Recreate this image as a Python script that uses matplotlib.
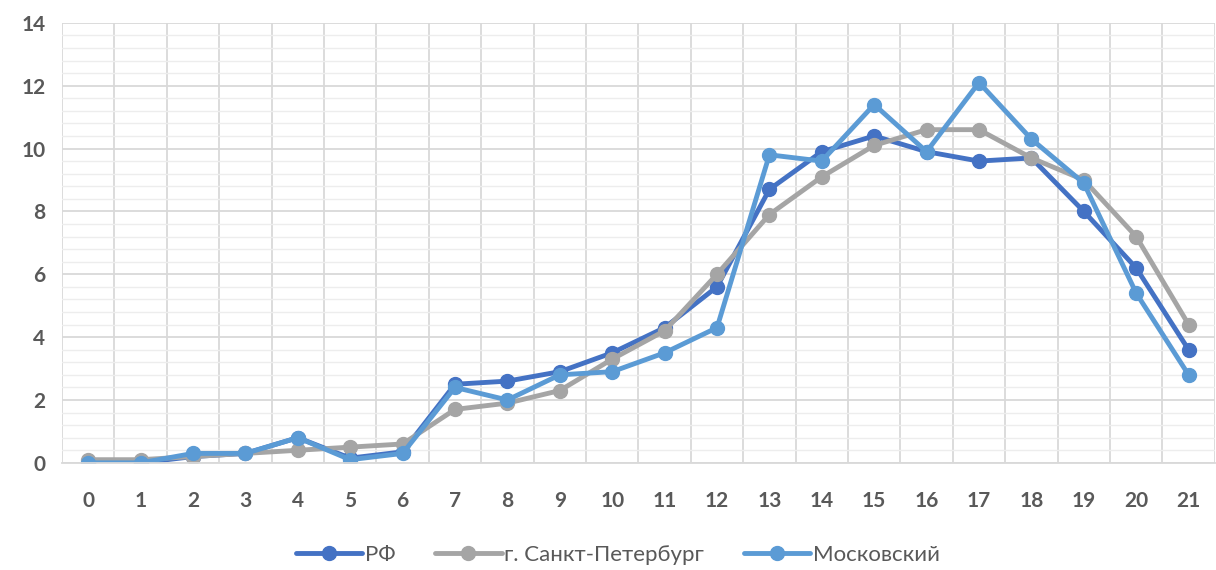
import numpy as np
import matplotlib.pyplot as plt
from matplotlib.ticker import MultipleLocator

# values
ages = list(range(22))
rf = [0.0, 0.0, 0.2, 0.3, 0.8, 0.15, 0.35, 2.5, 2.6, 2.9, 3.5, 4.3, 5.6, 8.7, 9.9, 10.4, 9.9, 9.6, 9.7, 8.0, 6.2, 3.6]
spb = [0.1, 0.1, 0.2, 0.3, 0.4, 0.5, 0.6, 1.7, 1.9, 2.3, 3.3, 4.2, 6.0, 7.9, 9.1, 10.1, 10.6, 10.6, 9.7, 9.0, 7.2, 4.4]
msk = [0.0, 0.0, 0.3, 0.3, 0.8, 0.1, 0.3, 2.4, 2.0, 2.8, 2.9, 3.5, 4.3, 9.8, 9.6, 11.4, 9.9, 12.1, 10.3, 8.9, 5.4, 2.8]
names = ["РФ", "г. Санкт-Петербург", "Московский"]
colors = ["#4472C4", "#A5A5A5", "#5B9BD5"]

plt.rcParams['font.family'] = ['Lato', 'DejaVu Sans']

fig = plt.figure(figsize=(12.16, 5.7), dpi=100)
ax = fig.add_axes([0.051, 0.188, 0.948, 0.772])

for vals, name, col in zip([rf, spb, msk], names, colors):
    ax.plot(ages, vals, color=col, lw=3.5, marker='o', ms=10, label=name,
            solid_capstyle='round', solid_joinstyle='round')

ax.set_xlim(-0.5, 21.5)
ax.set_ylim(0, 14)
ax.set_xticks(ages)
ax.set_xticks(np.arange(-0.5, 22, 1), minor=True)
ax.yaxis.set_major_locator(MultipleLocator(2))
ax.yaxis.set_minor_locator(MultipleLocator(0.4))

ax.xaxis.grid(True, which='minor', color='#D9D9D9', lw=1.3)
ax.yaxis.grid(True, which='major', color='#D9D9D9', lw=1.3)
ax.yaxis.grid(True, which='minor', color='#EDEDED', lw=1.0)
ax.set_axisbelow(True)

for s in ['top', 'right', 'left']:
    ax.spines[s].set_visible(False)
ax.spines['bottom'].set_color('#D9D9D9')
ax.spines['bottom'].set_linewidth(1.3)

ax.tick_params(which='both', length=0)
ax.tick_params(axis='x', pad=20, labelsize=15, labelcolor='#595959')
ax.tick_params(axis='y', pad=12, labelsize=15, labelcolor='#595959')
for lab in ax.get_xticklabels() + ax.get_yticklabels():
    lab.set_fontweight('bold')

leg = ax.legend(loc='center', bbox_to_anchor=(0.482, -0.21), ncol=3, frameon=False,
                fontsize=16, handlelength=3.0, columnspacing=1.8, handletextpad=0.1)
for t in leg.get_texts():
    t.set_color('#595959')

plt.savefig("out.png", dpi=100)
